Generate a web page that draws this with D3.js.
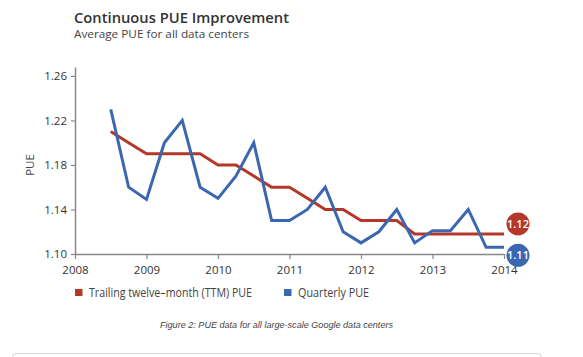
<!DOCTYPE html>
<html><head><meta charset="utf-8">
<script src="https://cdn.jsdelivr.net/npm/d3@7"></script>
<style>
html,body{margin:0;padding:0;background:#fff;}
svg{display:block;}
</style></head>
<body>
<script>
const quarters = [2008.5,2008.75,2009,2009.25,2009.5,2009.75,2010,2010.25,2010.5,2010.75,2011,2011.25,2011.5,2011.75,2012,2012.25,2012.5,2012.75,2013,2013.25,2013.5,2013.75,2014];
const ttmPUE = [1.21,1.20,1.19,1.19,1.19,1.19,1.18,1.18,1.17,1.16,1.16,1.15,1.14,1.14,1.13,1.13,1.13,1.118,1.118,1.118,1.118,1.118,1.118];
const quarterlyPUE = [1.23,1.16,1.149,1.20,1.22,1.16,1.15,1.17,1.20,1.13,1.13,1.14,1.16,1.12,1.11,1.12,1.14,1.11,1.121,1.121,1.14,1.106,1.106];
const yTicks = [1.10,1.14,1.18,1.22,1.26];
const xTicks = [2008,2009,2010,2011,2012,2013,2014];
const seriesNames = ["Trailing twelve\u2013month (TTM) PUE","Quarterly PUE"];
const endLabels = ["1.12","1.11"];
const colors = ["#b3382a","#3a67b0"];

const W=583,H=357;
const svg=d3.select("body").append("svg").attr("width",W).attr("height",H);
const x=d3.scaleLinear().domain([2008,2014]).range([75,504]);
const y=d3.scaleLinear().domain([1.10,1.268]).range([254,67]);

svg.append("text").attr("x",74).attr("y",23).attr("font-family","Open Sans").attr("font-weight",600)
  .attr("font-size",15).attr("fill","#333").attr("textLength",215).attr("lengthAdjust","spacingAndGlyphs")
  .text("Continuous PUE Improvement");
svg.append("text").attr("x",74).attr("y",37.5).attr("font-family","Open Sans")
  .attr("font-size",11.5).attr("fill","#444").attr("textLength",175).attr("lengthAdjust","spacingAndGlyphs")
  .text("Average PUE for all data centers");

const gy=svg.append("g").attr("transform","translate(75,0)")
  .call(d3.axisLeft(y).tickValues(yTicks).tickFormat(d3.format(".2f")).tickSize(4).tickSizeOuter(0));
const gx=svg.append("g").attr("transform","translate(0,254)")
  .call(d3.axisBottom(x).tickValues(xTicks).tickFormat(d3.format("d")).tickSize(5).tickSizeOuter(0));
[gx,gy].forEach(g=>{
  g.select(".domain").attr("stroke","#888").attr("stroke-width",1.5);
  g.selectAll(".tick line").attr("stroke","#888").attr("stroke-width",1.2);
  g.selectAll(".tick text").attr("font-family","Open Sans").attr("font-size",11.5).attr("fill","#333");
});
gx.selectAll(".tick text").attr("dy","1.05em");
gy.selectAll(".tick text").attr("dx","-1px");

svg.append("text").attr("transform","translate(34,165) rotate(-90)").attr("text-anchor","middle")
  .attr("font-family","Open Sans").attr("font-size",11.5).attr("fill","#444").text("PUE");

const line=d3.line().x((d,i)=>x(quarters[i])).y(d=>y(d));
[ttmPUE,quarterlyPUE].forEach((s,k)=>{
  svg.append("path").datum(s).attr("d",line).attr("fill","none")
    .attr("stroke",colors[k]).attr("stroke-width",3).attr("stroke-linejoin","miter");
});

const offs=[-10,8];
[ttmPUE,quarterlyPUE].forEach((s,k)=>{
  const cx=x(quarters[quarters.length-1])+14, cy=y(s[s.length-1])+offs[k];
  svg.append("circle").attr("cx",cx).attr("cy",cy).attr("r",11.5).attr("fill",colors[k]);
  svg.append("text").attr("x",cx).attr("y",cy+4).attr("text-anchor","middle")
    .attr("font-family","Open Sans").attr("font-weight",600).attr("font-size",11).attr("fill","#fff").text(endLabels[k]);
});

const legX=[75,284], legW=[163,71];
seriesNames.forEach((n,k)=>{
  svg.append("rect").attr("x",legX[k]).attr("y",289).attr("width",7.5).attr("height",7).attr("fill",colors[k]);
  svg.append("text").attr("x",legX[k]+14).attr("y",296.5).attr("font-family","Open Sans")
    .attr("font-size",12).attr("fill","#444").attr("textLength",legW[k]).attr("lengthAdjust","spacingAndGlyphs").text(n);
});

svg.append("text").attr("x",160).attr("y",328).attr("font-family","Liberation Sans")
  .attr("font-style","italic").attr("font-size",9).attr("fill","#444").attr("textLength",233).attr("lengthAdjust","spacingAndGlyphs")
  .text("Figure 2: PUE data for all large-scale Google data centers");

svg.append("rect").attr("x",12.5).attr("y",353.5).attr("width",529).attr("height",20).attr("rx",4)
  .attr("fill","none").attr("stroke","#d4d4dc").attr("stroke-width",1);
</script>
</body></html>
